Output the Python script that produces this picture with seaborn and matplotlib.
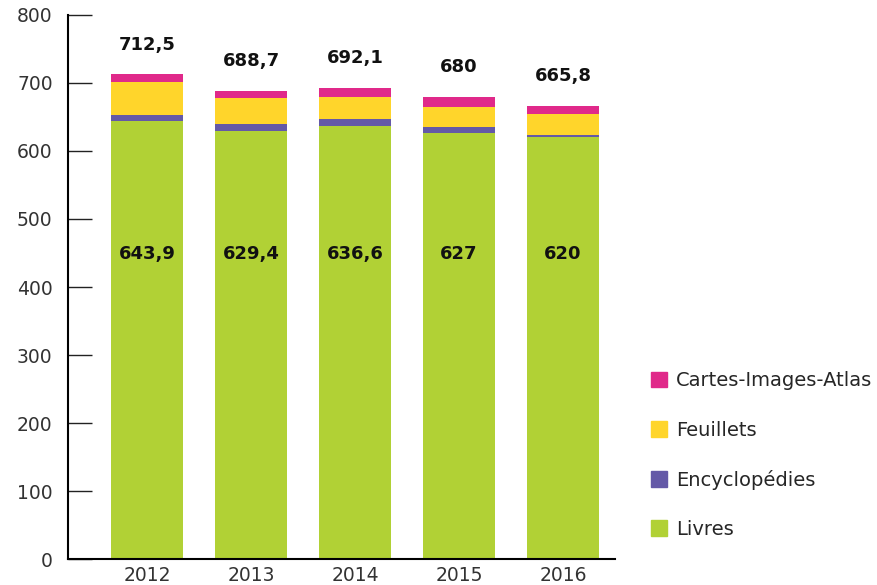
import pandas as pd
import matplotlib.pyplot as plt
import seaborn as sns
from matplotlib.patches import Patch

# Données (milliers de tonnes)
annees = ['2012', '2013', '2014', '2015', '2016']
livres = [643.9, 629.4, 636.6, 627, 620]
encyclopedies = [9.0, 10.3, 10.3, 8.8, 3.0]
feuillets = [48.5, 38.2, 33.0, 29.4, 30.9]
cartes = [11.1, 10.8, 12.2, 14.8, 11.9]
totaux = [712.5, 688.7, 692.1, 680, 665.8]
labels_livres = ['643,9', '629,4', '636,6', '627', '620']
labels_totaux = ['712,5', '688,7', '692,1', '680', '665,8']

couleurs = {
    'Cartes-Images-Atlas': '#E0298A',
    'Feuillets': '#FFD52B',
    'Encyclopédies': '#6459A7',
    'Livres': '#B1D135',
}

data = pd.DataFrame({'annee': annees, 'Livres': livres,
                     'Encyclopédies': encyclopedies, 'Feuillets': feuillets,
                     'Cartes-Images-Atlas': cartes})
# cumuls pour empiler les barres
data['c1'] = data['Livres']
data['c2'] = data['c1'] + data['Encyclopédies']
data['c3'] = data['c2'] + data['Feuillets']
data['c4'] = data['c3'] + data['Cartes-Images-Atlas']

sns.set_style('white')
plt.rcParams['font.family'] = ['DejaVu Sans']

fig = plt.figure(figsize=(8.78, 5.85), dpi=100)
ax = fig.add_axes([0.0774, 0.0444, 0.623, 0.930])

for col, nom in [('c4', 'Cartes-Images-Atlas'), ('c3', 'Feuillets'),
                 ('c2', 'Encyclopédies'), ('c1', 'Livres')]:
    sns.barplot(data=data, x='annee', y=col, color=couleurs[nom],
                saturation=1, width=0.7, linewidth=0, edgecolor='none', ax=ax)

for i in range(len(annees)):
    ax.text(i, totaux[i] + 44, labels_totaux[i], ha='center', va='center',
            fontsize=13, fontweight='bold', color='#111111')
    ax.text(i, 448, labels_livres[i], ha='center', va='center',
            fontsize=13, fontweight='bold', color='#111111')

ax.set_ylim(0, 800)
ax.set_xlim(-0.76, 4.5)
ax.set_yticks(range(0, 801, 100))
ax.set_xlabel('')
ax.set_ylabel('')
sns.despine(ax=ax)
for s in ['left', 'bottom']:
    ax.spines[s].set_color('black')
    ax.spines[s].set_linewidth(1.5)
ax.tick_params(axis='y', left=True, direction='in', length=17, width=1,
               color='#222222', labelsize=13.5, labelcolor='#333333', pad=11)
ax.tick_params(axis='x', length=0, labelsize=13.5, labelcolor='#333333', pad=5)

handles = [Patch(color=couleurs[n], label=n) for n in couleurs]
fig.legend(handles=handles, loc='upper left', bbox_to_anchor=(0.741, 0.365),
           frameon=False, fontsize=14, handlelength=0.85, handleheight=0.85,
           handletextpad=0.45, labelspacing=1.55, borderpad=0, borderaxespad=0)

plt.savefig('out.png', dpi=100)
